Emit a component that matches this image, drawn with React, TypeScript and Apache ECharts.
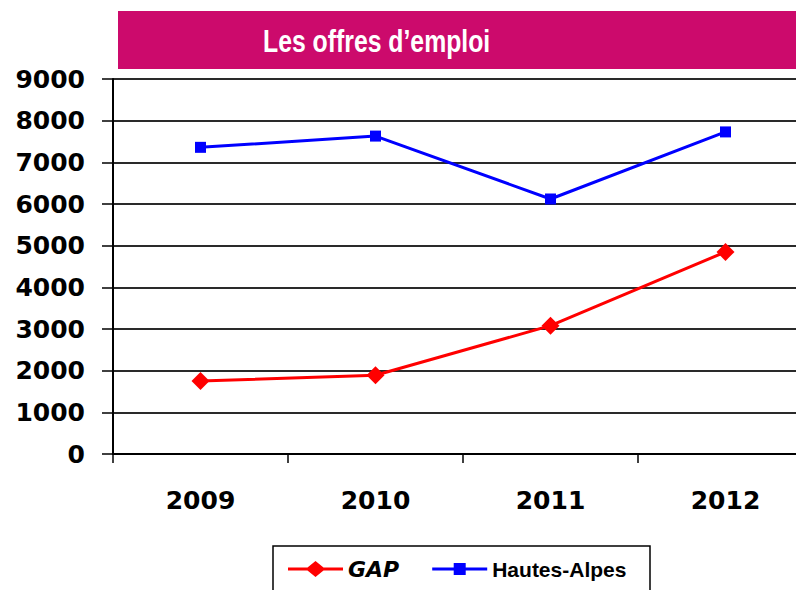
import React, { useEffect, useRef } from "react";
import * as echarts from "echarts";

const years = ["2009", "2010", "2011", "2012"];
const gapValues = [1750, 1890, 3080, 4850];
const hautesAlpesValues = [7360, 7630, 6120, 7730];
const yTicks = { min: 0, max: 9000, interval: 1000 };
const titleText = "Les offres d\u2019emploi";
const seriesNames = ["GAP", "Hautes-Alpes"];

export default function App() {
  const ref = useRef<HTMLDivElement>(null);
  useEffect(() => {
    if (!ref.current) return;
    const chart = echarts.init(ref.current, null, { renderer: "svg" });
    const diamondIcon = "path://M0,6.5H19.5L27.5,0L35.5,6.5H55V9.5H35.5L27.5,16L19.5,9.5H0Z";
    const squareIcon = "path://M0,0L0.01,0L0,0.01Z M55,16L54.99,16L55,15.99Z M0,6.5H21.5V2H33.5V6.5H55V9.5H33.5V14H21.5V9.5H0Z";
    chart.setOption({
      animation: false,
      backgroundColor: "#ffffff",
      grid: { left: 113, top: 79, right: 17, bottom: 136, containLabel: false },
      graphic: [
        {
          type: "rect",
          shape: { x: 118, y: 11, width: 720, height: 58 },
          style: { fill: "#CC0A6C" },
          z: 0,
        },
        {
          type: "text",
          x: 263,
          y: 41,
          scaleX: 0.775,
          style: {
            text: titleText,
            x: 0,
            y: 0,
            fill: "#ffffff",
            font: "bold 32px 'Liberation Sans', Arial, sans-serif",
            textAlign: "left",
            textVerticalAlign: "middle",
          },
          z: 1,
        },
        {
          type: "rect",
          shape: { x: 273, y: 546, width: 377, height: 60 },
          style: { fill: "#ffffff", stroke: "#000000", lineWidth: 1.5 },
          z: 0,
        },
      ],
      legend: {
        left: 283,
        top: 553,
        itemWidth: 55,
        itemHeight: 16,
        itemGap: 33,
        z: 10,
        data: [
          {
            name: seriesNames[0],
            icon: diamondIcon,
            textStyle: {
              fontFamily: "DejaVu Sans",
              fontStyle: "italic",
              fontWeight: "bold",
              fontSize: 22,
              color: "#000",
            },
          },
          {
            name: seriesNames[1],
            icon: squareIcon,
            textStyle: {
              fontFamily: "Liberation Sans",
              fontWeight: "bold",
              fontSize: 21,
              color: "#000",
            },
          },
        ],
      },
      xAxis: {
        type: "category",
        data: years,
        boundaryGap: true,
        axisLine: { show: true, lineStyle: { color: "#000", width: 2 } },
        axisTick: { show: true, length: 9, lineStyle: { color: "#000", width: 1.5 } },
        axisLabel: {
          margin: 34,
          fontFamily: "DejaVu Sans",
          fontWeight: "bold",
          fontSize: 25,
          color: "#000",
        },
        splitLine: { show: false },
      },
      yAxis: {
        type: "value",
        min: yTicks.min,
        max: yTicks.max,
        interval: yTicks.interval,
        axisLine: { show: true, lineStyle: { color: "#000", width: 2 } },
        axisTick: { show: true, length: 11, lineStyle: { color: "#000", width: 1.5 } },
        axisLabel: {
          margin: 28,
          fontFamily: "DejaVu Sans",
          fontWeight: "bold",
          fontSize: 25,
          color: "#000",
          formatter: (v: number) => String(v),
        },
        splitLine: { show: true, lineStyle: { color: "#2a2a2a", width: 2 } },
      },
      series: [
        {
          name: seriesNames[0],
          type: "line",
          data: gapValues,
          symbol: "diamond",
          symbolSize: 18,
          color: "#FF0000",
          lineStyle: { color: "#FF0000", width: 3 },
          itemStyle: { color: "#FF0000" },
        },
        {
          name: seriesNames[1],
          type: "line",
          data: hautesAlpesValues,
          symbol: "rect",
          symbolSize: 11,
          color: "#0000FF",
          lineStyle: { color: "#0000FF", width: 3 },
          itemStyle: { color: "#0000FF" },
        },
      ],
    });
    return () => chart.dispose();
  }, []);
  return (
    <div
      style={{
        position: "fixed",
        left: 0,
        top: 0,
        width: 796,
        height: 590,
        overflow: "hidden",
        background: "#ffffff",
      }}
    >
      <div ref={ref} style={{ width: 830, height: 590 }} />
    </div>
  );
}
